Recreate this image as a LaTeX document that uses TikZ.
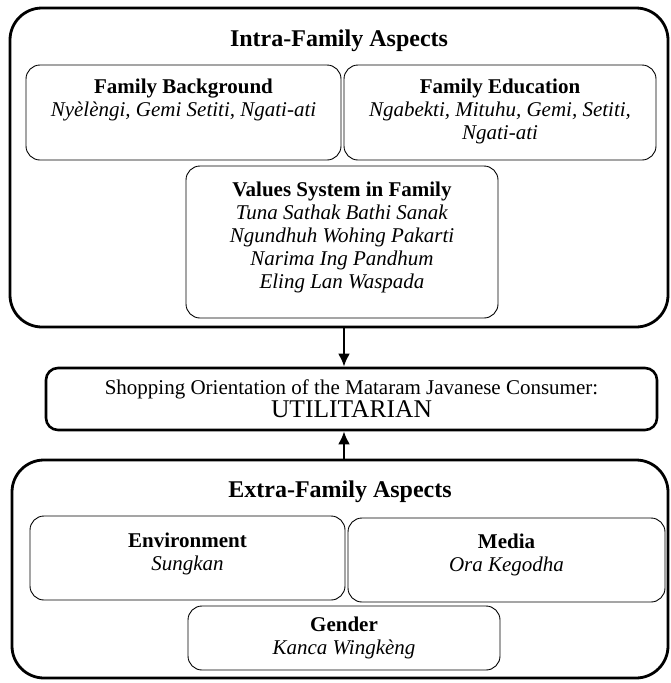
\documentclass[tikz,border=0pt]{standalone}
\usepackage{fontspec}
\setmainfont{Liberation Serif}
\usetikzlibrary{arrows.meta}
\begin{document}
\begin{tikzpicture}[x = 1pt, y = -1pt,
        big/.style = {draw, line width = 2.8pt, rounded corners = 32pt, inner sep = 0pt},
        small/.style = {draw, line width = 0.9pt, rounded corners = 14pt, inner sep = 0pt},
        head/.style = {inner sep = 0pt, font = \fontsize{24}{26}\selectfont\bfseries},
        txt/.style = {align = center, inner sep = 0pt, font = \fontsize{21}{23}\selectfont},
        arr/.style = {line width = 2.6pt, -{Latex[length = 13pt, width = 12pt]}}]
        \useasboundingbox (0, 0) rectangle (671, 683);
        \node[big, minimum width = 658pt, minimum height = 319pt] (intra) at (339, 167.5) {};
        \node[head] (intrahead) at (339, 41) {Intra-Family Aspects};
        \node[small, minimum width = 315pt, minimum height = 95pt] (bg) at (183.5, 112.5) {};
        \node[txt, anchor = north] (bgtext) at (183.5, 79) {\textbf{Family Background}\\ \textit{Nyèlèngi, Gemi Setiti, Ngati-ati}};
        \node[small, minimum width = 312pt, minimum height = 95pt] (edu) at (500, 112.5) {};
        \node[txt, anchor = north] (edutext) at (500, 79) {\textbf{Family Education}\\ \textit{Ngabekti, Mituhu, Gemi, Setiti,}\\ \textit{Ngati-ati}};
        \node[small, minimum width = 312pt, minimum height = 152pt] (val) at (342, 242) {};
        \node[txt, anchor = north] (valtext) at (342, 182) {\textbf{Values System in Family}\\ \textit{Tuna Sathak Bathi Sanak}\\ \textit{Ngundhuh Wohing Pakarti}\\ \textit{Narima Ing Pandhum}\\ \textit{Eling Lan Waspada}};
        \node[txt, draw, line width = 2.6pt, rounded corners = 12pt, minimum width = 611pt, minimum height = 62pt] (util) at (351.5, 399) {Shopping Orientation of the Mataram Javanese Consumer:\\ {\fontsize{25.5}{27}\selectfont UTILITARIAN}};
        \node[big, minimum width = 656pt, minimum height = 218pt] (extra) at (340, 569) {};
        \node[head] (extrahead) at (340, 492) {Extra-Family Aspects};
        \node[small, minimum width = 315pt, minimum height = 84pt] (env) at (187.5, 558) {};
        \node[txt] (envtext) at (187.5, 554) {\textbf{Environment}\\ \textit{Sungkan}};
        \node[small, minimum width = 317pt, minimum height = 84pt] (med) at (506.5, 560) {};
        \node[txt] (medtext) at (506.5, 555) {\textbf{Media}\\ \textit{Ora Kegodha}};
        \node[small, minimum width = 312pt, minimum height = 64pt] (gen) at (344, 638) {};
        \node[txt] (gentext) at (344, 638) {\textbf{Gender}\\ \textit{Kanca Wingkèng}};
        \coordinate (ax) at (344, 0);
        \draw[arr] (intra.south -| ax) -- (util.north -| ax);
        \draw[arr] (extra.north -| ax) -- (util.south -| ax);
\end{tikzpicture}
\end{document}
